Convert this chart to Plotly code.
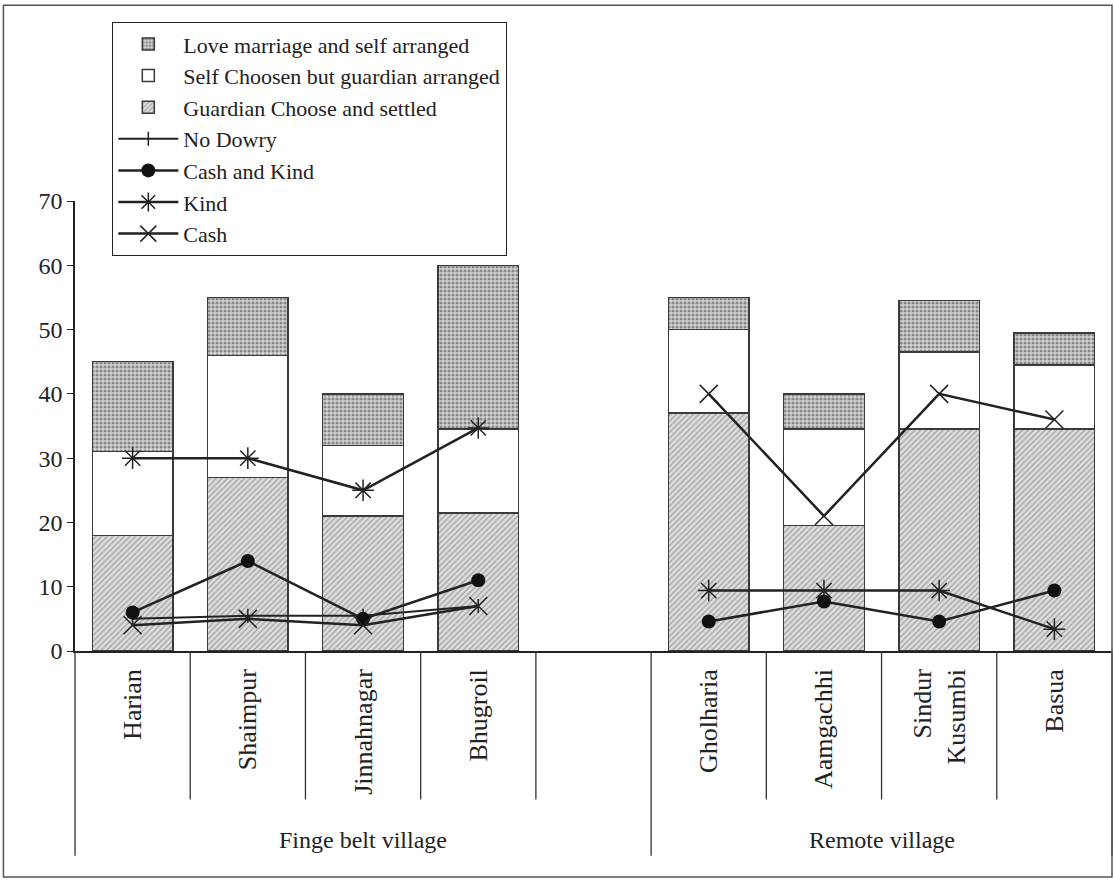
import plotly.graph_objects as go

villages = ["Harian", "Shaimpur", "Jinnahnagar", "Bhugroil", " ",
            "Gholharia", "Aamgachhi", "Sindur<br>Kusumbi", "Basua"]
groups = ["Finge belt village", "Remote village"]

guardian = [18, 27, 21, 21.5, None, 37, 19.5, 34.5, 34.5]
self_chosen = [13, 19, 11, 13, None, 13, 15, 12, 10]
love = [14, 9, 8, 25.5, None, 5, 5.5, 8, 5]

no_dowry = [5, 5.5, 5.5, 7, None, None, None, None, None]
cash_kind = [6, 14, 5, 11, None, 4.6, 7.7, 4.6, 9.4]
kind = [30, 30, 25, 34.7, None, 9.4, 9.4, 9.4, 3.4]
cash = [4, 5, 4, 7, None, 40, 21, 40, 36]

FONT = "Liberation Serif, Times New Roman, serif"
LINE_C = "#222222"

fig = go.Figure()
fig.add_trace(go.Bar(x=villages, y=guardian, name="Guardian Choose and settled",
                     legendrank=3,
                     marker=dict(color="#dcdcdc", line=dict(color="#3a3a3a", width=1.5),
                                 pattern=dict(shape="/", fgcolor="#6a6a6a", bgcolor="#dedede",
                                              size=4, solidity=0.35))))
fig.add_trace(go.Bar(x=villages, y=self_chosen, name="Self Choosen but guardian arranged",
                     legendrank=2,
                     marker=dict(color="white", line=dict(color="#3a3a3a", width=1.5))))
fig.add_trace(go.Bar(x=villages, y=love, name="Love marriage and self arranged",
                     legendrank=1,
                     marker=dict(color="#bbbbbb", line=dict(color="#3a3a3a", width=1.5),
                                 pattern=dict(shape=".", fgcolor="#3a3a3a", bgcolor="#d4d4d4",
                                              size=4, solidity=0.5))))

fig.add_trace(go.Scatter(x=villages, y=no_dowry, name="No Dowry", mode="lines+markers",
                         legendrank=4,
                         line=dict(color=LINE_C, width=2),
                         marker=dict(symbol="line-ns-open", size=10, color=LINE_C,
                                     line=dict(color=LINE_C, width=1.5))))
fig.add_trace(go.Scatter(x=villages, y=cash_kind, name="Cash and Kind", mode="lines+markers",
                         legendrank=5,
                         line=dict(color=LINE_C, width=2.5),
                         marker=dict(symbol="circle", size=14, color="#111111")))
fig.add_trace(go.Scatter(x=villages, y=kind, name="Kind", mode="lines+markers",
                         legendrank=6,
                         line=dict(color=LINE_C, width=2.5),
                         marker=dict(symbol="asterisk-open", size=18, color=LINE_C,
                                     line=dict(color=LINE_C, width=1.5))))
fig.add_trace(go.Scatter(x=villages, y=cash, name="Cash", mode="lines+markers",
                         legendrank=7,
                         line=dict(color=LINE_C, width=2.5),
                         marker=dict(symbol="x-thin-open", size=18, color=LINE_C,
                                     line=dict(color=LINE_C, width=1.5))))

n = len(villages)
shapes = []
for i in range(n + 1):
    long_div = i in (0, 5, n)
    shapes.append(dict(type="line", xref="paper", yref="paper",
                       x0=i / n, x1=i / n, y0=0, y1=-0.455 if long_div else -0.33,
                       line=dict(color="#333333", width=1.3)))
# outer frame
shapes.append(dict(type="rect", xref="paper", yref="paper",
                   x0=-0.069, x1=1.0, y0=-0.502, y1=1.435,
                   line=dict(color="#555555", width=1.5)))

annotations = [
    dict(text=groups[0], xref="paper", yref="paper", x=2.5 / n, y=-0.42,
         xanchor="center", yanchor="middle",
         showarrow=False, font=dict(family=FONT, size=24, color="#222")),
    dict(text=groups[1], xref="paper", yref="paper", x=7 / n, y=-0.42,
         xanchor="center", yanchor="middle",
         showarrow=False, font=dict(family=FONT, size=24, color="#222")),
]

fig.update_layout(
    width=1114, height=880,
    margin=dict(l=75, r=2, t=201, b=229),
    paper_bgcolor="white", plot_bgcolor="white",
    barmode="stack", bargap=0.3,
    font=dict(family=FONT, size=24, color="#222"),
    shapes=shapes, annotations=annotations,
    legend=dict(x=0.0357, y=1.398, xanchor="left", yanchor="top",
                traceorder="normal", bordercolor="#222", borderwidth=1.3,
                bgcolor="white", font=dict(family=FONT, size=22, color="#222"),
                itemwidth=60, tracegroupgap=0),
    showlegend=True,
)
fig.update_xaxes(type="category", categoryorder="array", categoryarray=villages,
                 range=[-0.5, n - 0.5], tickangle=-90, showline=True,
                 linecolor="#222", linewidth=1.5, ticks="", showgrid=False,
                 ticklabelstandoff=6,
                 tickfont=dict(family=FONT, size=26, color="#222"))
fig.update_yaxes(range=[0, 70], dtick=10, ticks="outside", ticklen=6,
                 tickcolor="#222", showline=True, linecolor="#222", linewidth=1.5,
                 showgrid=False, zeroline=False,
                 tickfont=dict(family=FONT, size=24, color="#222"))

fig.write_html("out.html")
